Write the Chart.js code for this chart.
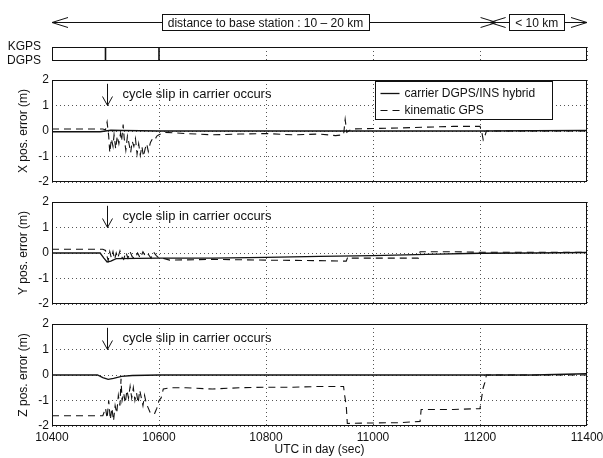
<!DOCTYPE html>
<html>
<head>
<meta charset="utf-8">
<script src="https://cdn.jsdelivr.net/npm/chart.js@4"></script>
<style>
body { margin: 0; background: #fff; }
#wrap { position: relative; width: 603px; height: 458px; background: #fff; overflow: hidden; }
#wrap canvas { position: absolute; left: 0; }
</style>
</head>
<body>
<div id="wrap">
  <canvas id="mode" width="603" height="70" style="top:0px;width:603px;height:70px"></canvas>
  <canvas id="xerr" width="603" height="120" style="top:70px;width:603px;height:120px"></canvas>
  <canvas id="yerr" width="603" height="122" style="top:190px;width:603px;height:122px"></canvas>
  <canvas id="zerr" width="603" height="146" style="top:312px;width:603px;height:146px"></canvas>
</div>
<script>
// axis ranges / ticks
const timeRange = [10400, 11400];
const timeStep = 200;
const errRange = [-2, 2];
const modeLabels = ['DGPS', 'KGPS'];

// KGPS / DGPS mode trace
const modeTime = [10400, 10500, 10500, 10600, 10600, 11400];
const modeLevel = [1, 1, 0, 0, 1, 1];

// X position error
const xHybT = [10400, 10490, 10500, 10510, 10530, 10600, 10800, 11000, 11200, 11400];
const xHybV = [-0.03, -0.03, 0.0, 0.03, 0.02, 0.0, 0.0, 0.0, 0.0, 0.02];
const xKinT = [10400, 10495, 10500, 10503, 10506, 10508, 10511, 10514, 10516, 10519, 10522, 10525, 10528, 10530,
  10533, 10535, 10538, 10541, 10544, 10547, 10550, 10553, 10556, 10559, 10562, 10565, 10568, 10571, 10574,
  10577, 10580, 10584, 10588, 10592, 10596, 10600, 10610, 10650, 10700, 10750, 10800, 10850, 10900, 10930,
  10945, 10948, 10951, 10960, 11000, 11050, 11100, 11150, 11200, 11203, 11206, 11209, 11212, 11400];
const xKinV = [0.08, 0.08, 0.05, 0.35, -0.2, -0.85, -0.3, -0.6, -0.15, -0.7, -0.2, -0.5, -0.1, -0.4,
  0.25, -0.3, -0.75, -0.2, -0.5, -0.85, -0.4, -0.6, -0.3, -0.9, -0.5, -0.95, -0.6, -1.0, -0.7,
  -0.5, -0.8, -0.45, -0.3, -0.35, -0.2, -0.15, -0.05, -0.1, -0.15, -0.12, -0.1, -0.15, -0.12, -0.18,
  -0.15, 0.45, -0.05, 0.08, 0.1, 0.12, 0.15, 0.18, 0.18, 0.0, -0.35, -0.2, 0.0, 0.0];

// Y position error
const yHybT = [10400, 10490, 10497, 10503, 10510, 10520, 10600, 10700, 10800, 10900, 11000, 11100, 11200, 11300, 11400];
const yHybV = [0.0, 0.0, -0.2, -0.35, -0.32, -0.22, -0.2, -0.2, -0.17, -0.13, -0.1, -0.05, -0.01, 0.0, 0.02];
const yKinT = [10400, 10495, 10500, 10505, 10508, 10511, 10514, 10517, 10520, 10523, 10527, 10530, 10534,
  10538, 10542, 10546, 10550, 10555, 10560, 10565, 10570, 10575, 10580, 10585, 10590, 10595, 10600,
  10610, 10620, 10700, 10800, 10900, 10950, 10953, 10960, 11000, 11085, 11088, 11150, 11200, 11400];
const yKinV = [0.15, 0.15, 0.1, -0.3, 0.05, -0.2, 0.05, -0.25, 0.0, -0.2, 0.08, -0.15, -0.25,
  0.03, -0.2, 0.05, -0.15, -0.22, 0.0, -0.2, 0.05, -0.15, -0.05, -0.2, 0.03, -0.1, -0.2,
  -0.22, -0.28, -0.25, -0.28, -0.3, -0.32, -0.15, -0.2, -0.2, -0.2, 0.05, 0.05, 0.03, 0.03];

// Z position error
const zHybT = [10400, 10485, 10495, 10505, 10515, 10530, 10550, 10600, 11000, 11300, 11400];
const zHybV = [0.0, 0.0, -0.1, -0.17, -0.13, -0.05, -0.02, 0.0, 0.0, 0.0, 0.05];
const zKinT = [10400, 10490, 10495, 10500, 10503, 10506, 10509, 10512, 10515, 10518, 10521, 10524, 10527,
  10529, 10531, 10534, 10537, 10540, 10543, 10546, 10549, 10552, 10555, 10558, 10561, 10564, 10567,
  10570, 10573, 10576, 10580, 10584, 10588, 10592, 10596, 10600, 10604, 10608, 10620, 10650, 10700,
  10750, 10800, 10850, 10900, 10945, 10947, 10950, 10952, 11000, 11050, 11088, 11090, 11150, 11200,
  11203, 11206, 11209, 11212, 11400];
const zKinV = [-1.6, -1.6, -1.6, -1.3, -1.7, -1.0, -1.75, -1.3, -1.8, -1.2, -1.5, -0.8, -1.2,
  -0.15, -1.0, -0.7, -1.1, -0.6, -0.9, -0.45, -0.9, -0.5, -1.0, -0.7, -1.1, -0.6, -0.9,
  -1.2, -0.8, -1.1, -1.3, -1.5, -1.55, -1.5, -1.3, -1.0, -0.9, -0.55, -0.5, -0.5, -0.55,
  -0.5, -0.48, -0.48, -0.45, -0.45, -0.8, -1.2, -1.9, -1.88, -1.87, -1.82, -1.35, -1.35, -1.32,
  -0.9, -0.5, -0.3, 0.0, 0.0];

const seriesNames = ['carrier DGPS/INS hybrid', 'kinematic GPS'];
const slipText = 'cycle slip in carrier occurs';

const ink = '#111';
const fontStack = '"Liberation Sans", Arial, Helvetica, sans-serif';
Chart.defaults.font.family = fontStack;
Chart.defaults.font.size = 12;
Chart.defaults.color = ink;

function pts(t, v) {
  return t.map((x, i) => ({ x: x, y: v[i] }));
}

// solid box round the plot area
const frame = {
  id: 'frame',
  afterDatasetsDraw(chart) {
    const a = chart.chartArea, ctx = chart.ctx;
    ctx.save();
    ctx.strokeStyle = ink;
    ctx.lineWidth = 1;
    ctx.strokeRect(Math.round(a.left) + 0.5, Math.round(a.top) + 0.5,
      Math.round(a.right - a.left) - 1, Math.round(a.bottom - a.top) - 1);
    ctx.restore();
  }
};

// "cycle slip" arrow and text
const slipNote = {
  id: 'slipNote',
  afterDatasetsDraw(chart, args, opts) {
    if (!opts.text) return;
    const xs = chart.scales.x, ys = chart.scales.y, ctx = chart.ctx;
    const px = Math.round(xs.getPixelForValue(opts.at)) + 0.5;
    const y0 = ys.getPixelForValue(opts.from), y1 = ys.getPixelForValue(opts.to);
    ctx.save();
    ctx.strokeStyle = ink;
    ctx.lineWidth = 1;
    ctx.beginPath();
    ctx.moveTo(px, y0);
    ctx.lineTo(px, y1);
    ctx.moveTo(px - 5, y1 - 9);
    ctx.lineTo(px, y1);
    ctx.lineTo(px + 5, y1 - 9);
    ctx.stroke();
    ctx.fillStyle = ink;
    ctx.font = '13px ' + fontStack;
    ctx.textBaseline = 'middle';
    ctx.fillText(opts.text, xs.getPixelForValue(opts.textAt), ys.getPixelForValue(opts.textLevel));
    ctx.restore();
  }
};

// boxed legend in the upper right of the X panel
const boxLegend = {
  id: 'boxLegend',
  afterDraw(chart, args, opts) {
    if (!opts.show) return;
    const ctx = chart.ctx, a = chart.chartArea;
    const left = Math.round(a.left + opts.dx) + 0.5, top = Math.round(a.top + opts.dy) + 0.5;
    ctx.save();
    ctx.fillStyle = '#fff';
    ctx.fillRect(left, top, opts.w, opts.h);
    ctx.strokeStyle = ink;
    ctx.lineWidth = 1;
    ctx.strokeRect(left, top, opts.w, opts.h);
    ctx.font = '12px ' + fontStack;
    ctx.textBaseline = 'middle';
    ctx.fillStyle = ink;
    chart.data.datasets.forEach((ds, i) => {
      const y = Math.round(top + 11 + i * 17) + 0.5;
      ctx.setLineDash(ds.borderDash || []);
      ctx.lineWidth = ds.borderWidth;
      ctx.beginPath();
      ctx.moveTo(left + 5, y);
      ctx.lineTo(left + 24, y);
      ctx.stroke();
      ctx.setLineDash([]);
      ctx.fillText(ds.label, left + 29, y);
    });
    ctx.restore();
  }
};

// distance-to-base-station arrows above the mode panel
const distance = {
  id: 'distance',
  afterDraw(chart, args, opts) {
    const xs = chart.scales.x, ctx = chart.ctx, y = opts.y + 0.5;
    ctx.save();
    ctx.strokeStyle = ink;
    ctx.fillStyle = ink;
    ctx.lineWidth = 1;
    ctx.font = '12px ' + fontStack;
    ctx.textBaseline = 'middle';
    ctx.textAlign = 'center';
    opts.spans.forEach(s => {
      const x0 = xs.getPixelForValue(s.from), x1 = xs.getPixelForValue(s.to);
      ctx.beginPath();
      ctx.moveTo(x0, y);
      ctx.lineTo(x1, y);
      ctx.moveTo(x0 + 16, y - 5);
      ctx.lineTo(x0, y);
      ctx.lineTo(x0 + 16, y + 5);
      ctx.moveTo(x1 - 16, y - 5);
      ctx.lineTo(x1, y);
      ctx.lineTo(x1 - 16, y + 5);
      ctx.stroke();
      const cx = xs.getPixelForValue(s.mid);
      const w = Math.round(ctx.measureText(s.text).width + 12);
      const bx = Math.round(cx - w / 2) + 0.5, by = y - 8;
      ctx.fillStyle = '#fff';
      ctx.fillRect(bx, by, w, 16);
      ctx.strokeRect(bx, by, w, 16);
      ctx.fillStyle = ink;
      ctx.fillText(s.text, cx, y + 1);
    });
    ctx.restore();
  }
};

function xAxis(height, showLabels) {
  return {
    type: 'linear',
    min: timeRange[0],
    max: timeRange[1],
    ticks: {
      display: showLabels,
      stepSize: timeStep,
      padding: 4,
      maxRotation: 0,
      callback: v => String(v)
    },
    grid: { color: '#555', drawTicks: false, lineWidth: 1 },
    border: { display: false, dash: [1, 3] },
    title: showLabels ? { display: true, text: 'UTC in day (sec)', padding: { top: 0, bottom: 1 } } : { display: false },
    afterFit: s => { s.height = height; s.paddingLeft = 0; s.paddingRight = 0; }
  };
}

function yAxis(title) {
  return {
    type: 'linear',
    min: errRange[0],
    max: errRange[1],
    ticks: { stepSize: 1, padding: 3, callback: v => String(v) },
    grid: { color: '#555', drawTicks: false, lineWidth: 1 },
    border: { display: false, dash: [1, 3] },
    title: { display: true, text: title, padding: { top: 16, bottom: 0 } },
    afterFit: s => { s.width = 52; s.paddingTop = 0; s.paddingBottom = 0; }
  };
}

function errorChart(id, title, hybT, hybV, kinT, kinV, padTop, xHeight, showLabels, withLegend) {
  return new Chart(document.getElementById(id), {
    type: 'line',
    data: {
      datasets: [
        { label: seriesNames[0], data: pts(hybT, hybV), borderColor: ink, borderWidth: 1.3, pointRadius: 0, tension: 0 },
        { label: seriesNames[1], data: pts(kinT, kinV), borderColor: ink, borderWidth: 1.1, borderDash: [7, 5], pointRadius: 0, tension: 0 }
      ]
    },
    options: {
      responsive: false,
      animation: false,
      layout: { padding: { top: padTop, right: 16, bottom: 0, left: 0 } },
      scales: { x: xAxis(xHeight, showLabels), y: yAxis(title) },
      plugins: {
        legend: { display: false },
        tooltip: { enabled: false },
        slipNote: { text: slipText, at: 10502, from: 1.85, to: 1.0, textAt: 10532, textLevel: 1.42 },
        boxLegend: { show: withLegend, dx: 323, dy: 1, w: 177, h: 38 }
      }
    },
    plugins: [frame, slipNote, boxLegend]
  });
}

new Chart(document.getElementById('mode'), {
  type: 'line',
  data: {
    datasets: [{
      label: 'mode',
      data: pts(modeTime, modeLevel),
      borderColor: ink,
      borderWidth: 1.6,
      pointRadius: 0,
      tension: 0
    }]
  },
  options: {
    responsive: false,
    animation: false,
    layout: { padding: { top: 47, right: 16, bottom: 0, left: 0 } },
    scales: {
      x: xAxis(9, false),
      y: {
        type: 'linear',
        min: 0,
        max: 1,
        ticks: { stepSize: 1, padding: 3, autoSkip: false, callback: v => modeLabels[v] },
        grid: { display: false },
        border: { display: false },
        afterFit: s => { s.width = 52; s.paddingTop = 0; s.paddingBottom = 0; }
      }
    },
    plugins: {
      legend: { display: false },
      tooltip: { enabled: false },
      distance: {
        y: 22,
        spans: [
          { from: 10400, to: 11231, mid: 10799, text: 'distance to base station : 10 \u2013 20 km' },
          { from: 11218, to: 11400, mid: 11306, text: '< 10 km' }
        ]
      }
    }
  },
  plugins: [frame, distance]
});

errorChart('xerr', 'X pos. error (m)', xHybT, xHybV, xKinT, xKinV, 10, 8, false, true);
errorChart('yerr', 'Y pos. error (m)', yHybT, yHybV, yKinT, yKinV, 12, 8, false, false);
errorChart('zerr', 'Z pos. error (m)', zHybT, zHybV, zKinT, zKinV, 12, 32, true, false);
</script>
</body>
</html>
